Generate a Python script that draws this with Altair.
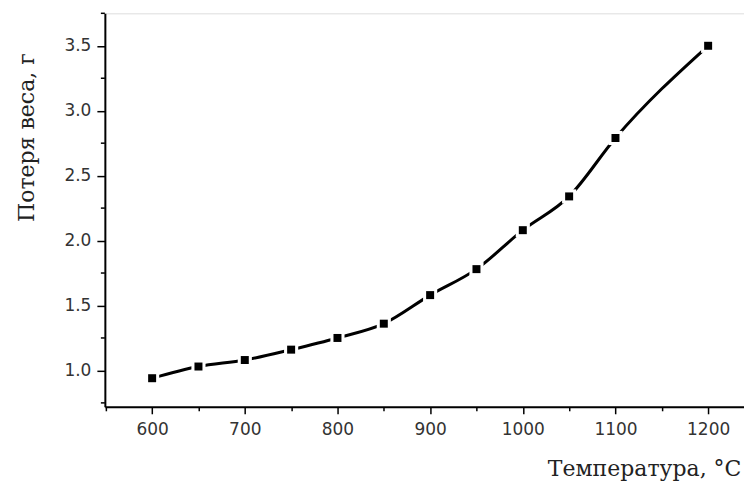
import altair as alt
import pandas as pd

temperature = [600, 650, 700, 750, 800, 850, 900, 950, 1000, 1050, 1100, 1200]
weight_loss = [0.94, 1.03, 1.08, 1.16, 1.25, 1.36, 1.58, 1.78, 2.08, 2.34, 2.79, 3.50]

x_ticks = [550, 600, 650, 700, 750, 800, 850, 900, 950, 1000, 1050, 1100, 1150, 1200]
y_major = [1.0, 1.5, 2.0, 2.5, 3.0, 3.5]
y_minor = [0.75, 1.25, 1.75, 2.25, 2.75, 3.25, 3.75]

df = pd.DataFrame({"t": temperature, "w": weight_loss})
df_minor = pd.DataFrame({"w": y_minor})

W, H = 640, 394
y_scale = alt.Scale(domain=[0.72, 3.75], nice=False, zero=False)

x_enc = alt.X(
    "t:Q",
    scale=alt.Scale(domain=[549, 1238.7], nice=False, zero=False),
    axis=alt.Axis(
        values=x_ticks,
        labelExpr="datum.value % 100 === 0 ? format(datum.value, 'd') : ''",
        tickSize={"condition": {"test": "datum.value % 100 === 0", "value": 7}, "value": 4},
        title="Температура, °C",
        titleX=540, titleY=62, titleAlign="center", titleBaseline="middle",
        titleFont="DejaVu Serif", titleFontSize=22, titleFontWeight="normal",
        labelFont="DejaVu Sans", labelFontSize=17, labelPadding=8,
        labelColor="#333", titleColor="#222", labelOverlap=False,
        domainColor="black", domainWidth=2, tickColor="black", tickWidth=1.5,
        grid=False, labelFlush=False,
    ),
)
y_axis = alt.Axis(
    values=y_major, format=".1f", tickSize=8,
    title="Потеря веса, г",
    titleX=-78, titleY=124, titleAngle=-90, titleAlign="center", titleBaseline="middle",
    titleFont="DejaVu Serif", titleFontSize=22, titleFontWeight="normal",
    labelFont="DejaVu Sans", labelFontSize=17, labelPadding=6,
    labelColor="#333", titleColor="#222", labelOverlap=False,
    domainColor="black", domainWidth=2, tickColor="black", tickWidth=1.5,
    grid=False, labelFlush=False,
)
y_enc = alt.Y("w:Q", scale=y_scale, axis=y_axis)

base = alt.Chart(df)
line = base.mark_line(color="black", strokeWidth=3, interpolate="monotone").encode(x=x_enc, y=y_enc)
halo = base.mark_square(color="white", size=200, opacity=1).encode(x="t:Q", y=y_enc)
points = base.mark_square(color="black", size=64, opacity=1).encode(x="t:Q", y=y_enc)
minor_ticks = alt.Chart(df_minor).mark_rule(color="black", strokeWidth=1.5).encode(
    y=y_enc,
    x=alt.value(-4),
    x2=alt.value(0),
)

chart = (
    alt.layer(line, halo, points, minor_ticks)
    .properties(width=W, height=H, autosize=alt.AutoSizeParams(type="none"),
                padding={"left": 97, "top": 5, "right": 0, "bottom": 78})
    .configure_view(stroke="white", strokeWidth=0, strokeOpacity=0)
    .configure(background="white")
)

chart.save("out.html", embed_options={"renderer": "svg", "actions": False})
